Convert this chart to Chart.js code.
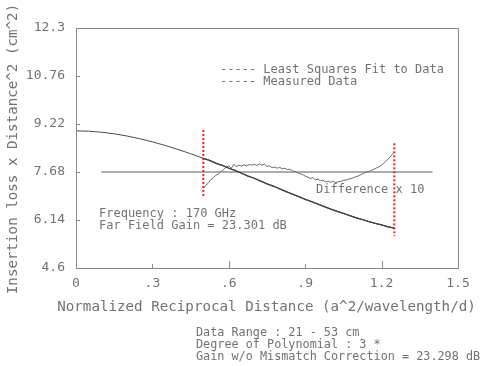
<!DOCTYPE html>
<html>
<head>
<meta charset="utf-8">
<script src="https://cdn.jsdelivr.net/npm/chart.js@4.4.1/dist/chart.umd.min.js"></script>
<style>
html,body{margin:0;padding:0;background:#fff;}
#wrap{width:482px;height:366px;position:relative;}
</style>
</head>
<body>
<div id="wrap"><canvas id="c" width="482" height="366"></canvas></div>
<script>
// ---- data ----
const xTicks = [0, 0.3, 0.6, 0.9, 1.2, 1.5];
const xTickLabels = ["0", ".3", ".6", ".9", "1.2", "1.5"];
const yTicks = [4.6, 6.14, 7.68, 9.22, 10.76, 12.3];
const yTickLabels = ["4.6", "6.14", "7.68", "9.22", "10.76", "12.3"];

// least squares fit (x, y)
const fitX = [0,0.05,0.1,0.15,0.2,0.25,0.3,0.35,0.4,0.45,0.5,0.55,0.6,0.65,0.7,0.75,0.8,0.85,0.9,0.95,1.0,1.05,1.1,1.15,1.2,1.25];
const fitY = [9.000,8.989,8.957,8.905,8.835,8.748,8.647,8.532,8.404,8.267,8.120,7.966,7.806,7.641,7.474,7.305,7.137,6.970,6.807,6.648,6.495,6.350,6.215,6.090,5.977,5.879];

// measured data
const measX = [0.5,0.525,0.55,0.575,0.6,0.625,0.65,0.675,0.7,0.725,0.75,0.775,0.8,0.825,0.85,0.875,0.9,0.925,0.95,0.975,1.0,1.025,1.05,1.075,1.1,1.125,1.15,1.175,1.2,1.225,1.25];
const measY = [8.12,8.05,7.96,7.89,7.80,7.73,7.64,7.55,7.48,7.39,7.30,7.23,7.14,7.05,6.97,6.89,6.80,6.73,6.65,6.57,6.49,6.42,6.35,6.28,6.21,6.15,6.09,6.03,5.98,5.92,5.88];

// difference x 10 (plotted about the 7.68 reference line)
const diffX = [0.50,0.51,0.52,0.53,0.54,0.55,0.56,0.57,0.58,0.59,0.60,0.61,0.62,0.63,0.64,0.65,0.66,0.67,0.68,0.69,0.70,0.71,0.72,0.73,0.74,0.75,0.76,0.77,0.78,0.79,0.80,0.81,0.82,0.83,0.84,0.85,0.86,0.87,0.88,0.89,0.90,0.91,0.92,0.93,0.94,0.95,0.96,0.97,0.98,0.99,1.00,1.01,1.02,1.03,1.04,1.05,1.06,1.07,1.08,1.09,1.10,1.11,1.12,1.13,1.14,1.15,1.16,1.17,1.18,1.19,1.20,1.21,1.22,1.23,1.24,1.25];
const diffY = [7.16,7.26,7.33,7.44,7.50,7.58,7.62,7.70,7.76,7.84,7.88,7.80,7.93,7.84,7.90,7.87,7.91,7.88,7.92,7.90,7.93,7.89,7.94,7.90,7.93,7.86,7.88,7.82,7.84,7.80,7.83,7.78,7.80,7.76,7.77,7.71,7.70,7.66,7.62,7.60,7.55,7.52,7.47,7.50,7.43,7.45,7.40,7.42,7.36,7.39,7.35,7.38,7.34,7.37,7.38,7.41,7.42,7.45,7.47,7.50,7.53,7.56,7.60,7.64,7.67,7.70,7.73,7.77,7.81,7.85,7.90,7.97,8.05,8.13,8.23,8.32];

// reference (zero) line for the difference curve
const zeroX = [0.1, 1.4];
const zeroY = [7.68, 7.68];

// red dotted data-range markers
const leftMarkX = [0.5, 0.5];
const leftMarkY = [9.03, 6.85];
const rightMarkX = [1.25, 1.25];
const rightMarkY = [8.60, 5.62];

const xTitle = 'Normalized Reciprocal Distance (a^2/wavelength/d)';
const yTitle = 'Insertion loss x Distance^2 (cm^2)';
const annotations = [
  {t: "----- Least Squares Fit to Data", x: 220, y: 70},
  {t: "----- Measured Data", x: 220, y: 82},
  {t: "Difference x 10", x: 316, y: 190},
  {t: "Frequency : 170 GHz", x: 99, y: 214},
  {t: "Far Field Gain = 23.301 dB", x: 99, y: 225.5}
];
const footer = [
  {t: "Data Range : 21 - 53 cm", x: 196, y: 333},
  {t: "Degree of Polynomial : 3 *", x: 196, y: 345},
  {t: "Gain w/o Mismatch Correction = 23.298 dB", x: 196, y: 357}
];

// ---- build ----
const pts = (xs, ys) => xs.map((x, i) => ({x: x, y: ys[i]}));
const FONT = "'DejaVu Sans Mono', 'Liberation Mono', monospace";
const TXT = '#727272';
const FRAME = '#8a8a8a';

const framePlugin = {
  id: 'frame',
  afterDraw(chart) {
    const ctx = chart.ctx, a = chart.chartArea;
    const xs = chart.scales.x, ys = chart.scales.y;
    ctx.save();
    ctx.strokeStyle = FRAME;
    ctx.lineWidth = 1;
    ctx.strokeRect(Math.round(a.left) + 0.5, Math.round(a.top) + 0.5, Math.round(a.right - a.left), Math.round(a.bottom - a.top));
    ctx.beginPath();
    yTicks.forEach(v => {
      const py = Math.round(ys.getPixelForValue(v)) + 0.5;
      ctx.moveTo(a.left, py); ctx.lineTo(a.left + 4, py);
    });
    xTicks.forEach((v, i) => {
      const px = Math.round(xs.getPixelForValue(v)) + 0.5;
      const len = (i % 2 === 0) ? 7 : 4;
      ctx.moveTo(px, a.bottom); ctx.lineTo(px, a.bottom - len);
    });
    ctx.stroke();
    ctx.fillStyle = TXT;
    ctx.textBaseline = 'middle';
    ctx.textAlign = 'left';
    ctx.font = "12px " + FONT;
    annotations.forEach(o => ctx.fillText(o.t, o.x, o.y));
    ctx.font = "11.8px " + FONT;
    footer.forEach(o => ctx.fillText(o.t, o.x, o.y));
    // axis titles
    ctx.font = "14.2px " + FONT;
    ctx.textAlign = 'center';
    ctx.fillText(xTitle, 266.5, 307);
    ctx.translate(13, 149);
    ctx.rotate(-Math.PI / 2);
    ctx.fillText(yTitle, 0, 0);
    ctx.restore();
  }
};

new Chart(document.getElementById('c'), {
  type: 'line',
  data: {
    datasets: [
      {label: 'Least Squares Fit to Data', data: pts(fitX, fitY), borderColor: '#4a4a4a', borderWidth: 1},
      {label: 'Measured Data', data: pts(measX, measY), borderColor: '#2a2a2a', borderWidth: 1.3},
      {label: 'Difference x 10', data: pts(diffX, diffY), borderColor: '#6a6a6a', borderWidth: 1},
      {label: 'zero', data: pts(zeroX, zeroY), borderColor: '#5a5a5a', borderWidth: 1},
      {label: 'range start', data: pts(leftMarkX, leftMarkY), borderColor: '#ff1a1a', borderWidth: 2, borderDash: [2, 2]},
      {label: 'range end', data: pts(rightMarkX, rightMarkY), borderColor: '#ff1a1a', borderWidth: 2, borderDash: [2, 2]}
    ]
  },
  options: {
    responsive: false,
    animation: false,
    devicePixelRatio: 1,
    layout: {padding: {top: 28, right: 24, left: 0, bottom: 0}},
    elements: {point: {radius: 0}, line: {tension: 0, fill: false}},
    plugins: {legend: {display: false}, tooltip: {enabled: false}},
    scales: {
      x: {
        type: 'linear', min: 0, max: 1.5,
        afterFit(s) { s.height = 98; },
        afterBuildTicks(s) { s.ticks = xTicks.map(v => ({value: v})); },
        grid: {display: false, drawTicks: false},
        border: {display: false},
        ticks: {
          padding: 8, color: TXT, font: {family: FONT, size: 13},
          maxRotation: 0, autoSkip: false,
          callback: (v) => { const i = xTicks.findIndex(t => Math.abs(t - v) < 1e-9); return i >= 0 ? xTickLabels[i] : ''; }
        },
        title: {display: false}
      },
      y: {
        type: 'linear', min: 4.6, max: 12.3,
        afterFit(s) { s.width = 76; },
        afterBuildTicks(s) { s.ticks = yTicks.map(v => ({value: v})); },
        grid: {display: false, drawTicks: false},
        border: {display: false},
        ticks: {
          padding: 11, color: TXT, font: {family: FONT, size: 13}, autoSkip: false,
          callback: (v) => { const i = yTicks.findIndex(t => Math.abs(t - v) < 1e-9); return i >= 0 ? yTickLabels[i] : ''; }
        },
        title: {display: false}
      }
    }
  },
  plugins: [framePlugin]
});
</script>
</body>
</html>
